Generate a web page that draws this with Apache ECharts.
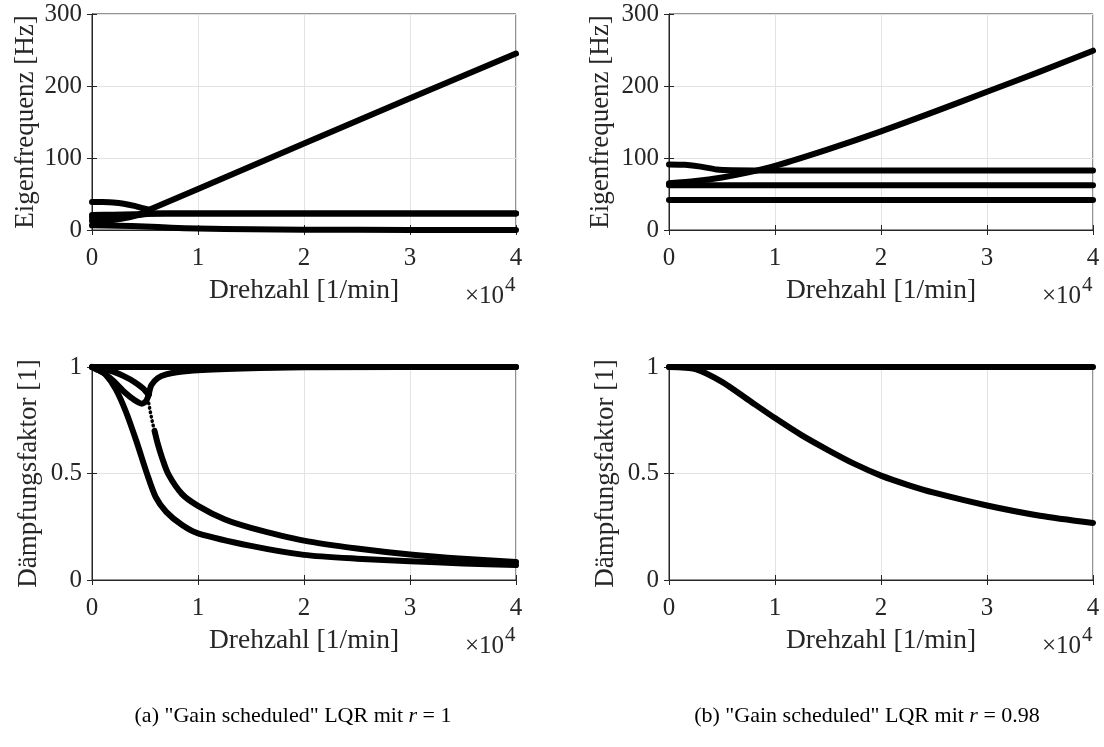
<!DOCTYPE html>
<html><head><meta charset="utf-8">
<script src="https://cdn.jsdelivr.net/npm/echarts@6/dist/echarts.min.js"></script>
<style>html,body{margin:0;padding:0;background:#fff}#c{width:1104px;height:747px}</style>
</head><body><div id="c"></div>
<script>
// ---- data (x in units of 1e4 1/min) ----
const xTicks = [0, 1, 2, 3, 4];
const freqTicks = [0, 100, 200, 300];
const dampTicks = [0, 0.5, 1];

// (a) r = 1, Eigenfrequenz [Hz]
const aFreqUpper = [[0,39],[0.1,38.8],[0.2,38.2],[0.3,36.5],[0.4,33.5],[0.5,29.5],[0.54,28]];
const aFreqRising = [[0.54,28],[1,57],[2,120],[3,183],[4,245]];
const aFreqMid1 = [[0,21],[0.2,21.3],[0.4,22],[0.6,22.8],[1,23],[2,23],[3,23],[4,23]];
const aFreqMid2 = [[0,17],[0.2,17.8],[0.4,20],[0.55,22.5],[0.7,23],[4,23]];
const aFreqMid3 = [[0,12.5],[0.2,14],[0.35,17.5],[0.45,22],[0.54,27.5]];
const aFreqLow = [[0,6.5],[0.25,6],[0.5,4.8],[0.75,3.2],[1,2],[1.5,0.9],[2,0.4],[3,0.1],[4,0]];

// (b) r = 0.98, Eigenfrequenz [Hz]
const bFreqLow = [[0,41.5],[4,41.5]];
const bFreqMid = [[0,62],[4,62]];
const bFreqHigh = [[0,91],[0.15,90.5],[0.3,88],[0.45,84],[0.6,83],[1,82.5],[4,82.5]];
const bFreqRising = [[0,65],[0.25,68],[0.5,73],[0.75,80],[1,89],[1.5,112],[2,137],[2.5,164],[3,192],[3.5,220],[4,249]];

// (a) r = 1, Dämpfungsfaktor [1]
const aDampOne = [[0,1],[4,1]];
const aDampVLeft = [[0,1],[0.1,0.993],[0.2,0.978],[0.3,0.957],[0.4,0.93],[0.48,0.9],[0.535,0.87]];
const aDampVRight = [[0.535,0.87],[0.56,0.915],[0.62,0.948],[0.7,0.965],[0.8,0.975],[1,0.985],[1.5,0.994],[2,0.999],[4,1]];
const aDampLobe = [[0,1],[0.1,0.975],[0.2,0.935],[0.3,0.885],[0.4,0.845],[0.47,0.828],[0.51,0.84],[0.535,0.87]];
const aDampDotted = [[0.535,0.83],[0.55,0.79],[0.57,0.74],[0.59,0.70]];
const aDampMid = [[0.59,0.70],[0.62,0.64],[0.66,0.575],[0.72,0.497],[0.85,0.403],[1,0.348],[1.25,0.285],[1.5,0.245],[2,0.185],[2.5,0.148],[3,0.12],[3.5,0.1],[4,0.085]];
const aDampLow = [[0,1],[0.06,0.985],[0.126,0.966],[0.225,0.895],[0.32,0.79],[0.42,0.65],[0.52,0.497],[0.6,0.39],[0.7,0.32],[0.85,0.258],[1,0.219],[1.5,0.16],[2,0.118],[2.5,0.1],[3,0.088],[3.5,0.078],[4,0.07]];

// (b) r = 0.98, Dämpfungsfaktor [1]
const bDampOne = [[0,1],[4,1]];
const bDampCurve = [[0,1],[0.25,0.99],[0.5,0.93],[0.75,0.845],[1,0.76],[1.25,0.68],[1.5,0.61],[1.75,0.545],[2,0.49],[2.25,0.447],[2.5,0.41],[3,0.35],[3.5,0.302],[4,0.268]];

const xName = 'Drehzahl [1/min]';
const freqName = 'Eigenfrequenz [Hz]';
const dampName = 'Dämpfungsfaktor [1]';
const captionA = '(a) "Gain scheduled" LQR mit ';
const captionB = '(b) "Gain scheduled" LQR mit ';
const captionAr = '1';
const captionBr = '0.98';

// ---- layout / style ----
const FONT = '"Liberation Serif", "Times New Roman", serif';
const AX = '#262626';
const GRIDC = '#e3e3e3';
const grids = [
  {left: 92, top: 14, width: 424, height: 216},
  {left: 669, top: 14, width: 424, height: 216},
  {left: 92, top: 367, width: 424, height: 213},
  {left: 669, top: 367, width: 424, height: 213}
];
const yNameGaps = [53, 55, 50, 50];
const yRanges = [freqTicks, freqTicks, dampTicks, dampTicks];
const yNames = [freqName, freqName, dampName, dampName];

const xAxes = [], yAxes = [];
grids.forEach((g, i) => {
  xAxes.push({
    gridIndex: i, type: 'value', min: xTicks[0], max: xTicks[xTicks.length-1], interval: xTicks[1]-xTicks[0],
    position: 'bottom',
    axisLine: {show: true, lineStyle: {color: AX, width: 1}},
    axisTick: {show: true, inside: true, length: 5, lineStyle: {color: AX}},
    axisLabel: {margin: 16, fontSize: 25, fontFamily: FONT, color: AX},
    splitLine: {show: true, lineStyle: {color: GRIDC, width: 1}},
    name: xName, nameLocation: 'middle', nameGap: 47,
    nameTextStyle: {fontSize: 27.5, fontFamily: FONT, color: AX}
  });
  xAxes.push({
    gridIndex: i, type: 'value', min: xTicks[0], max: xTicks[xTicks.length-1], interval: xTicks[1]-xTicks[0],
    position: 'top',
    axisLine: {show: true, lineStyle: {color: AX, width: 1}},
    axisTick: {show: true, inside: true, length: 5, lineStyle: {color: AX}},
    axisLabel: {show: false}, splitLine: {show: false}
  });
  const t = yRanges[i];
  yAxes.push({
    gridIndex: i, type: 'value', min: t[0], max: t[t.length-1], interval: t[1]-t[0],
    position: 'left',
    axisLine: {show: true, lineStyle: {color: AX, width: 1}},
    axisTick: {show: true, inside: true, length: 5, lineStyle: {color: AX}},
    axisLabel: {margin: 10, fontSize: 25, fontFamily: FONT, color: AX},
    splitLine: {show: true, lineStyle: {color: GRIDC, width: 1}},
    name: yNames[i], nameLocation: 'middle', nameGap: yNameGaps[i], nameRotate: 90,
    nameTextStyle: {fontSize: 27, fontFamily: FONT, color: AX}
  });
  yAxes.push({
    gridIndex: i, type: 'value', min: t[0], max: t[t.length-1], interval: t[1]-t[0],
    position: 'right',
    axisLine: {show: true, lineStyle: {color: AX, width: 1}},
    axisTick: {show: true, inside: true, length: 5, lineStyle: {color: AX}},
    axisLabel: {show: false}, splitLine: {show: false}
  });
});

function line(grid, data, opts) {
  opts = opts || {};
  return {
    type: 'line', xAxisIndex: grid*2, yAxisIndex: grid*2, data: data,
    showSymbol: false, symbol: 'none', clip: false, silent: true,
    smooth: opts.smooth === undefined ? 0.25 : opts.smooth,
    lineStyle: {color: '#000', width: opts.width || 6, type: opts.type || 'solid', cap: 'round', join: 'round'},
    z: 3
  };
}

const series = [
  line(0, aFreqLow), line(0, aFreqMid3), line(0, aFreqMid2), line(0, aFreqMid1), line(0, aFreqUpper), line(0, aFreqRising, {smooth: false}),
  line(1, bFreqLow, {smooth: false}), line(1, bFreqMid, {smooth: false}), line(1, bFreqHigh), line(1, bFreqRising),
  line(2, aDampOne, {smooth: false}), line(2, aDampVLeft), line(2, aDampVRight), line(2, aDampLobe),
  line(2, aDampDotted, {width: 3.5, type: [0.5, 4], smooth: false}), line(2, aDampMid), line(2, aDampLow),
  line(3, bDampOne, {smooth: false}), line(3, bDampCurve)
];

const graphics = [];
grids.forEach((g) => {
  const right = g.left + g.width;
  const axisY = g.top + g.height;
  graphics.push({type: 'text', x: right - 12, y: axisY + 66,
    style: {text: '×10', fontSize: 25, fontFamily: FONT, fill: AX, align: 'right', verticalAlign: 'middle'}});
  graphics.push({type: 'text', x: right - 11, y: axisY + 55,
    style: {text: '4', fontSize: 21, fontFamily: FONT, fill: AX, align: 'left', verticalAlign: 'middle'}});
});
const capRich = {n: {fontSize: 22, fontFamily: FONT, fill: '#000'}, i: {fontSize: 22, fontFamily: FONT, fontStyle: 'italic', fill: '#000'}};
graphics.push({type: 'text', x: 293, y: 716,
  style: {text: '{n|' + captionA + '}{i|r}{n| = ' + captionAr + '}', fontFamily: FONT, align: 'center', verticalAlign: 'middle', rich: capRich}});
graphics.push({type: 'text', x: 867, y: 716,
  style: {text: '{n|' + captionB + '}{i|r}{n| = ' + captionBr + '}', fontFamily: FONT, align: 'center', verticalAlign: 'middle', rich: capRich}});

const chart = echarts.init(document.getElementById('c'), null, {renderer: 'canvas'});
chart.setOption({
  animation: false,
  backgroundColor: '#fff',
  grid: grids.map(g => Object.assign({show: true, borderColor: AX, borderWidth: 1, backgroundColor: 'transparent'}, g)),
  xAxis: xAxes, yAxis: yAxes, series: series, graphic: graphics
});
</script></body></html>
